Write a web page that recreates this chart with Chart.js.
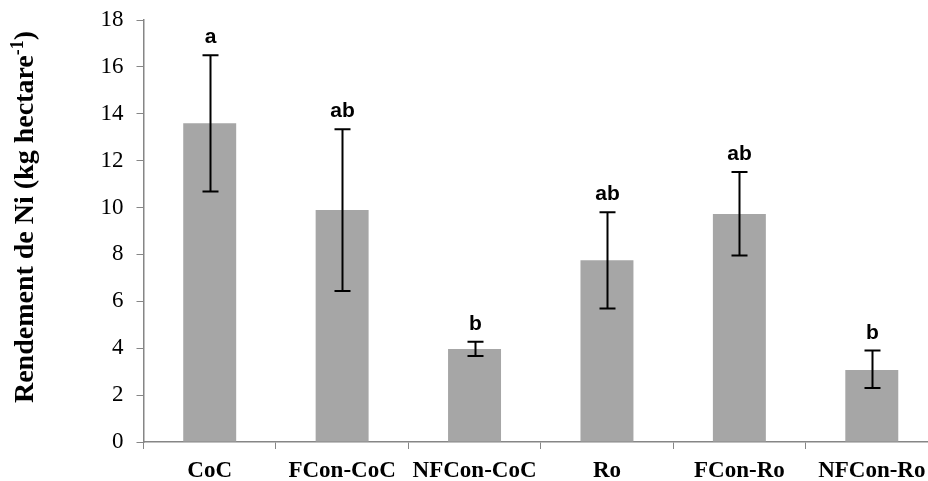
<!DOCTYPE html>
<html>
<head>
<meta charset="utf-8">
<script src="https://cdn.jsdelivr.net/npm/chart.js@4.4.0/dist/chart.umd.min.js"></script>
<style>
  html, body { margin: 0; padding: 0; background: #fff; overflow: hidden; }
  #wrap { position: absolute; left: 0; top: 0; width: 940px; height: 481px; }
</style>
</head>
<body>
<div id="wrap"><canvas id="niChart" width="940" height="481"></canvas></div>
<script>
// valeurs
const traitements = ['CoC', 'FCon-CoC', 'NFCon-CoC', 'Ro', 'FCon-Ro', 'NFCon-Ro'];
const rendementNi = [13.6, 9.9, 3.97, 7.75, 9.73, 3.07];
const erreurHaut = [16.5, 13.34, 4.28, 9.8, 11.52, 3.9];
const erreurBas = [10.68, 6.44, 3.67, 5.69, 7.96, 2.3];
const lettres = ['a', 'ab', 'b', 'ab', 'ab', 'b'];
const yTicks = [0, 2, 4, 6, 8, 10, 12, 14, 16, 18];

const axisColor = '#868686';

// barres d'erreur + lettres de significativite
const errorBars = {
    id: 'errorBars',
    afterDatasetsDraw(chart) {
        const ctx = chart.ctx;
        const x = chart.scales.x;
        const y = chart.scales.y;
        ctx.save();
        ctx.strokeStyle = '#000';
        ctx.lineWidth = 2;
        traitements.forEach((t, i) => {
            const cx = Math.round(x.getPixelForValue(i)) + 0.5;
            const yt = y.getPixelForValue(erreurHaut[i]);
            const yb = y.getPixelForValue(erreurBas[i]);
            ctx.beginPath();
            ctx.moveTo(cx, yt); ctx.lineTo(cx, yb);
            ctx.moveTo(cx - 8, yt); ctx.lineTo(cx + 8, yt);
            ctx.moveTo(cx - 8, yb); ctx.lineTo(cx + 8, yb);
            ctx.stroke();
            ctx.fillStyle = '#000';
            ctx.font = 'bold 21px "Liberation Sans", Arial, sans-serif';
            ctx.textAlign = 'center';
            ctx.textBaseline = 'alphabetic';
            ctx.fillText(lettres[i], cx, yt - 12);
        });
        ctx.restore();
    }
};

// titre de l'axe y avec exposant
const yTitle = {
    id: 'yTitle',
    afterDraw(chart) {
        const ctx = chart.ctx;
        const main = 'Rendement de Ni (kg hectare';
        const sup = '-1';
        const end = ')';
        ctx.save();
        ctx.translate(33, 217);
        ctx.rotate(-Math.PI / 2);
        ctx.fillStyle = '#000';
        ctx.textBaseline = 'alphabetic';
        const f1 = 'bold 28px "Liberation Serif", "Times New Roman", serif';
        const f2 = 'bold 18px "Liberation Serif", "Times New Roman", serif';
        ctx.font = f1;
        const w1 = ctx.measureText(main).width;
        const w3 = ctx.measureText(end).width;
        ctx.font = f2;
        const w2 = ctx.measureText(sup).width;
        let px = -(w1 + w2 + w3) / 2;
        ctx.font = f1;
        ctx.textAlign = 'left';
        ctx.fillText(main, px, 0);
        px += w1;
        ctx.font = f2;
        ctx.fillText(sup, px, -10);
        px += w2;
        ctx.font = f1;
        ctx.fillText(end, px, 0);
        ctx.restore();
    }
};

const chartData = {
    labels: traitements,
    datasets: [{
        data: rendementNi,
        backgroundColor: '#a6a6a6',
        borderWidth: 0,
        categoryPercentage: 1,
        barPercentage: 0.4
    }]
};

const config = {
    type: 'bar',
    data: chartData,
    options: {
        responsive: false,
        animation: false,
        layout: { padding: { top: 20, right: 2, left: 0, bottom: 0 } },
        plugins: {
            legend: { display: false },
            tooltip: { enabled: false }
        },
        scales: {
            x: {
                offset: true,
                grid: { display: true, drawOnChartArea: false, drawTicks: true, tickLength: 7, color: axisColor, offset: true },
                border: { display: true, color: axisColor, width: 1.5 },
                ticks: {
                    color: '#000',
                    padding: 8,
                    maxRotation: 0,
                    autoSkip: false,
                    font: { family: '"Liberation Serif", "Times New Roman", serif', size: 23, weight: 'bold' }
                },
                afterFit(scale) {
                    scale.height = 39;
                    scale.paddingLeft = 0;
                    scale.paddingRight = 0;
                }
            },
            y: {
                min: 0,
                max: 18,
                afterBuildTicks(scale) { scale.ticks = yTicks.map(v => ({ value: v })); },
                grid: { display: true, drawOnChartArea: false, drawTicks: true, tickLength: 7, color: axisColor },
                border: { display: true, color: axisColor, width: 1.5 },
                ticks: {
                    color: '#000',
                    padding: 13,
                    font: { family: '"Liberation Serif", "Times New Roman", serif', size: 23 }
                },
                afterFit(scale) {
                    scale.width = 143.5;
                    scale.paddingTop = 0;
                    scale.paddingBottom = 0;
                }
            }
        }
    },
    plugins: [errorBars, yTitle]
};

const niChart = new Chart(document.getElementById('niChart').getContext('2d'), config);
</script>
</body>
</html>
